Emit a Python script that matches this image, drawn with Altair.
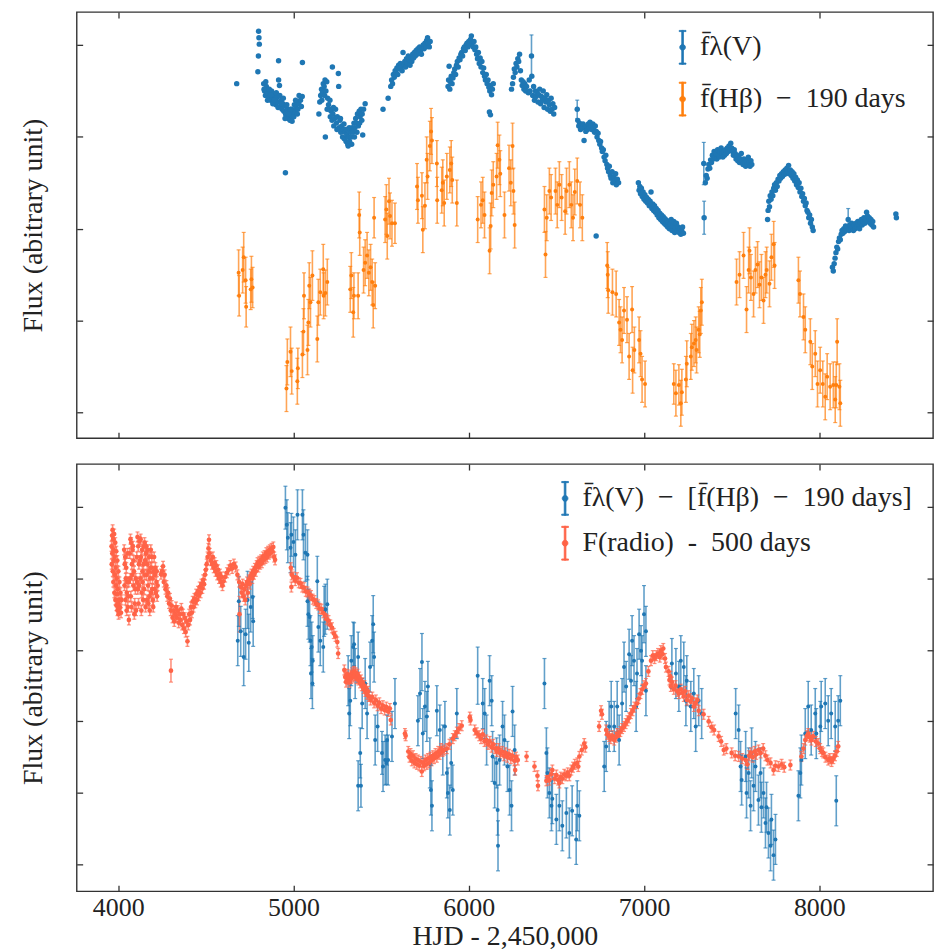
import altair as alt
import pandas as pd

# ---------------- axes ----------------
X_DOMAIN = [3763, 8649]
X_TICKS = [4000, 5000, 6000, 7000, 8000]
TOP_Y_DOMAIN = [-0.28, 4.36]
TOP_Y_TICKS = [0, 1, 2, 3, 4]
BOT_Y_DOMAIN = [-0.375, 5.6]
BOT_Y_TICKS = [0, 1, 2, 3, 4, 5]

TOP_SERIES = ["f̄λ(V)", "f̄(Hβ)\u2002−\u2002190 days"]
BOT_SERIES = ["f̄λ(V)\u2002−\u2002[f̄(Hβ)\u2002−\u2002190 days]", "F(radio)\u2002-\u2002500 days"]

# ---------------- data: top panel ----------------
# V-band continuum flux (HJD-2450000, flux in arbitrary units)
V_BAND = [
    (4676, 3.58),
    (4801, 4.15), (4803, 4.08), (4805, 4.01), (4800, 3.88), (4797, 3.71), (4915, 3.83), (5051, 3.81), (4954, 2.61),
    (4830, 3.58), (4835, 3.50), (4840, 3.45), (4845, 3.55), (4850, 3.48), (4855, 3.52), (4860, 3.42), (4865, 3.47),
    (4870, 3.40), (4875, 3.50), (4880, 3.44), (4885, 3.38), (4890, 3.46), (4895, 3.41), (4900, 3.35), (4905, 3.43),
    (4910, 3.38), (4915, 3.62), (4920, 3.56), (4925, 3.33), (4930, 3.40), (4935, 3.30), (4940, 3.36), (4945, 3.28),
    (4950, 3.34), (4955, 3.25), (4960, 3.22), (4965, 3.30), (4970, 3.20), (4975, 3.27), (4980, 3.18), (4985, 3.24),
    (4990, 3.30), (4995, 3.22), (5000, 3.28), (5005, 3.35), (5010, 3.26), (5015, 3.32), (5020, 3.38), (5025, 3.30),
    (5030, 3.36), (5040, 3.40), (5050, 3.44),
    (4832, 3.52), (4842, 3.60), (4852, 3.40), (4862, 3.52), (4872, 3.46), (4882, 3.36), (4892, 3.40), (4902, 3.48),
    (4912, 3.32), (4922, 3.45), (4932, 3.36), (4942, 3.42), (4952, 3.20), (4962, 3.35), (4972, 3.25), (4982, 3.30),
    (4992, 3.17), (5002, 3.22), (5012, 3.40), (5022, 3.25), (5032, 3.45), (5045, 3.33),
    (5145, 3.25), (5150, 3.38), (5155, 3.45), (5160, 3.52), (5165, 3.48), (5170, 3.58), (5175, 3.55), (5180, 3.62),
    (5185, 3.50), (5190, 3.60), (5195, 3.42), (5200, 3.35), (5205, 3.30), (5210, 3.22), (5215, 3.28), (5220, 3.18),
    (5222, 3.76), (5225, 3.25), (5230, 3.12), (5235, 3.20), (5240, 3.30), (5245, 3.15), (5250, 3.22), (5256, 3.69),
    (5258, 3.55), (5260, 3.10), (5265, 3.18), (5270, 3.05), (5275, 3.12), (5280, 3.00), (5285, 3.08), (5290, 2.98),
    (5295, 3.05), (5300, 2.95), (5305, 3.02), (5310, 2.92), (5315, 3.00), (5320, 2.95), (5325, 3.05), (5330, 3.00),
    (5335, 3.10), (5340, 3.05), (5345, 3.15), (5350, 3.10), (5355, 3.20), (5360, 3.15), (5365, 3.25), (5370, 3.12),
    (5375, 3.28), (5380, 3.22), (5385, 3.30), (5390, 3.18), (5395, 3.02), (5400, 3.30), (5409, 3.36), (5182, 3.00),
    (5312, 2.90),
    (5162, 3.40), (5178, 3.45), (5192, 3.30), (5208, 3.40), (5228, 3.32), (5248, 3.08), (5268, 3.20), (5288, 3.14),
    (5302, 3.08), (5318, 3.10), (5332, 2.92), (5348, 3.00), (5362, 3.05), (5378, 3.15), (5392, 3.25),
    (5511, 3.30), (5540, 3.42),
    (5555, 3.55), (5560, 3.62), (5565, 3.58), (5570, 3.68), (5575, 3.65), (5580, 3.72), (5585, 3.70), (5590, 3.75),
    (5595, 3.68), (5600, 3.78), (5605, 3.74), (5610, 3.80), (5615, 3.76), (5620, 3.72), (5625, 3.92), (5630, 3.78),
    (5635, 3.82), (5640, 3.76), (5645, 3.85), (5650, 3.80), (5655, 3.88), (5660, 3.84), (5665, 3.78), (5670, 3.86),
    (5675, 3.82), (5680, 3.90), (5685, 3.86), (5690, 3.92), (5695, 3.88), (5700, 3.94), (5705, 3.90), (5710, 3.96),
    (5715, 3.92), (5720, 3.98), (5725, 3.94), (5730, 3.90), (5735, 3.97), (5740, 4.00), (5745, 3.96), (5750, 4.02),
    (5755, 3.98), (5760, 4.05), (5765, 4.08), (5770, 4.02), (5775, 3.98), (5780, 4.04),
    (5882, 3.55), (5885, 3.62), (5888, 3.77), (5892, 3.52), (5895, 3.60), (5900, 3.66), (5905, 3.58), (5910, 3.64),
    (5915, 3.70), (5920, 3.74), (5925, 3.68), (5930, 3.78), (5935, 3.82), (5940, 3.76), (5945, 3.86), (5950, 3.84),
    (5955, 3.90), (5960, 3.92), (5965, 3.88), (5970, 3.96), (5975, 3.98), (5980, 3.94), (5985, 4.00), (5990, 4.02),
    (5995, 3.98), (6000, 4.04), (6005, 4.00), (6010, 4.06), (6015, 4.10), (6020, 4.02), (6025, 3.98), (6030, 4.04),
    (6035, 3.95), (6040, 3.98), (6045, 3.90), (6050, 3.85), (6055, 3.92), (6060, 3.80), (6065, 3.86), (6070, 3.76),
    (6075, 3.82), (6080, 3.70), (6085, 3.75), (6090, 3.66), (6095, 3.62), (6100, 3.68), (6105, 3.58), (6110, 3.62),
    (6115, 3.54), (6120, 3.50), (6125, 3.56), (6130, 3.46), (6135, 3.52), (6140, 3.58), (6118, 3.27), (6124, 3.24),
    (6244, 3.52), (6250, 3.58), (6255, 3.65), (6260, 3.74), (6265, 3.70), (6270, 3.80), (6275, 3.76), (6280, 3.85),
    (6285, 3.82), (6290, 3.90), (6295, 3.72), (6300, 3.62), (6305, 3.56), (6310, 3.60), (6315, 3.52), (6320, 3.58),
    (6325, 3.50), (6330, 3.55), (6340, 3.48), (6345, 3.62), (6350, 3.50), (6360, 3.66), (6365, 3.45), (6370, 3.55),
    (6375, 3.40), (6380, 3.50), (6385, 3.44), (6390, 3.48), (6395, 3.38), (6400, 3.46), (6405, 3.52), (6410, 3.36),
    (6415, 3.44), (6420, 3.40), (6425, 3.50), (6430, 3.32), (6435, 3.42), (6440, 3.38), (6445, 3.46), (6450, 3.30),
    (6455, 3.40), (6460, 3.35), (6465, 3.28), (6470, 3.42), (6475, 3.30), (6480, 3.36), (6485, 3.25), (6490, 3.32),
    (6622, 3.18), (6628, 3.12), (6632, 3.15), (6638, 3.08), (6642, 3.13), (6648, 3.10), (6652, 3.14), (6658, 2.96),
    (6662, 3.10), (6668, 3.06), (6672, 3.12), (6678, 3.08), (6682, 3.14), (6688, 3.10), (6692, 3.16), (6698, 3.12),
    (6702, 3.08), (6708, 3.14), (6712, 3.10), (6718, 3.05), (6722, 3.12), (6728, 3.06), (6732, 3.00), (6738, 3.04),
    (6742, 2.96), (6748, 2.92), (6752, 2.95), (6758, 2.88), (6762, 2.84), (6768, 2.86), (6772, 2.78), (6778, 2.74),
    (6782, 2.80), (6788, 2.70), (6792, 2.66), (6798, 2.62), (6802, 2.68), (6808, 2.58), (6812, 2.55), (6818, 2.62),
    (6822, 2.50), (6828, 2.56), (6832, 2.52), (6838, 2.60), (6842, 2.48), (6848, 2.54), (6855, 2.50),
    (6727, 1.92),
    (6968, 2.50), (6972, 2.42), (6976, 2.46), (6980, 2.38), (6985, 2.44), (6990, 2.35), (6995, 2.40), (7000, 2.32),
    (7005, 2.37), (7010, 2.30), (7015, 2.34), (7020, 2.28), (7025, 2.32), (7030, 2.25), (7035, 2.30), (7040, 2.40),
    (7045, 2.22), (7050, 2.27), (7055, 2.20), (7060, 2.25), (7065, 2.18), (7070, 2.22), (7075, 2.15), (7080, 2.20),
    (7085, 2.12), (7090, 2.17), (7095, 2.10), (7100, 2.15), (7105, 2.08), (7110, 2.13), (7115, 2.06), (7120, 2.11),
    (7125, 2.04), (7130, 2.09), (7135, 2.02), (7140, 2.07), (7145, 2.00), (7150, 2.05), (7155, 2.10), (7160, 1.98),
    (7165, 2.03), (7170, 2.08), (7175, 1.96), (7180, 2.01), (7185, 2.06), (7190, 1.98), (7195, 2.02), (7200, 1.96),
    (7205, 2.00), (7210, 1.94), (7215, 1.98), (7220, 2.02), (7225, 1.95),
    (7350, 2.50), (7355, 2.58), (7360, 2.55), (7365, 2.65), (7370, 2.70), (7375, 2.66), (7380, 2.75), (7385, 2.72),
    (7390, 2.80), (7395, 2.76), (7400, 2.84), (7405, 2.78), (7410, 2.82), (7415, 2.76), (7420, 2.86), (7425, 2.80),
    (7430, 2.78), (7435, 2.84), (7440, 2.88), (7445, 2.82), (7450, 2.78), (7455, 2.84), (7460, 2.80), (7465, 2.86),
    (7470, 2.82), (7475, 2.88), (7480, 2.84), (7485, 2.90), (7490, 2.86), (7495, 2.93), (7500, 2.88), (7505, 2.84),
    (7510, 2.80), (7515, 2.86), (7520, 2.82), (7525, 2.76), (7530, 2.80), (7535, 2.74), (7540, 2.78), (7545, 2.72),
    (7550, 2.76), (7555, 2.82), (7560, 2.74), (7565, 2.70), (7570, 2.76), (7575, 2.72), (7580, 2.68), (7585, 2.74),
    (7590, 2.70), (7595, 2.78), (7600, 2.72), (7605, 2.68), (7610, 2.74), (7615, 2.70),
    (7705, 2.10), (7708, 2.20), (7712, 2.30), (7716, 2.24), (7720, 2.36), (7725, 2.32), (7730, 2.40), (7735, 2.36),
    (7740, 2.44), (7745, 2.48), (7750, 2.42), (7755, 2.50), (7760, 2.46), (7765, 2.54), (7770, 2.52), (7775, 2.58),
    (7780, 2.55), (7785, 2.60), (7790, 2.57), (7795, 2.62), (7800, 2.59), (7805, 2.64), (7810, 2.60), (7815, 2.66),
    (7820, 2.62), (7825, 2.69), (7830, 2.60), (7835, 2.64), (7840, 2.58), (7845, 2.62), (7850, 2.55), (7855, 2.60),
    (7860, 2.52), (7865, 2.56), (7870, 2.48), (7875, 2.53), (7880, 2.45), (7885, 2.50), (7890, 2.40), (7895, 2.44),
    (7900, 2.35), (7905, 2.38), (7910, 2.30), (7915, 2.33), (7920, 2.25), (7925, 2.28), (7930, 2.20), (7935, 2.18),
    (7940, 2.12), (7945, 2.15), (7950, 2.06), (7955, 2.10), (7960, 2.02), (7965, 1.98),
    (8075, 1.58), (8080, 1.54), (8085, 1.62), (8090, 1.68), (8095, 1.74), (8100, 1.80), (8105, 1.78), (8110, 1.86),
    (8115, 1.90), (8120, 1.88), (8125, 1.94), (8130, 1.98), (8135, 1.95), (8140, 2.00), (8145, 1.97), (8150, 2.03),
    (8155, 1.99), (8160, 2.02), (8170, 1.98), (8175, 2.04), (8180, 2.00), (8185, 2.06), (8190, 2.02), (8195, 1.98),
    (8200, 2.04), (8205, 2.00), (8210, 2.06), (8215, 2.02), (8220, 2.08), (8225, 2.04), (8230, 2.00), (8235, 2.06),
    (8240, 2.10), (8245, 2.04), (8250, 2.08), (8255, 2.12), (8260, 2.06), (8265, 2.10), (8270, 2.18), (8275, 2.14),
    (8280, 2.08), (8285, 2.12), (8290, 2.06), (8295, 2.10), (8300, 2.04), (8305, 2.08), (8310, 2.02),
    (8437, 2.16), (8440, 2.12),
]
# V-band points with visible error bars (hjd, flux, error)
V_BAND_ERR = [(6358, 3.88, 0.23), (7341, 2.71, 0.23), (7343, 2.12, 0.18), (6619, 3.30, 0.10), (8165, 2.10, 0.12)]

# H-beta flux shifted by 190 days (hjd, flux, error)
HBETA = [
    (4687, 1.52, 0.25), (4690, 1.27, 0.22), (4710, 1.55, 0.25), (4716, 1.69, 0.27), (4727, 1.44, 0.25), (4730, 1.15, 0.22),
    (4756, 1.34, 0.22), (4760, 1.45, 0.25), (4767, 1.36, 0.22),
    (4960, 0.26, 0.25), (4965, 0.55, 0.25), (4983, 0.66, 0.27), (4990, 0.45, 0.25), (5022, 0.34, 0.25), (5025, 0.48, 0.22),
    (5051, 0.63, 0.25), (5057, 0.88, 0.25), (5060, 1.27, 0.25), (5080, 0.68, 0.27), (5085, 0.98, 0.25), (5090, 1.38, 0.25),
    (5097, 1.20, 0.27), (5108, 1.49, 0.27), (5136, 0.80, 0.25), (5142, 1.20, 0.25), (5153, 1.31, 0.25), (5170, 1.56, 0.27),
    (5172, 1.27, 0.25), (5182, 1.30, 0.25), (5193, 1.42, 0.25),
    (5324, 1.34, 0.25), (5330, 1.49, 0.25), (5341, 1.09, 0.27), (5345, 1.27, 0.25), (5369, 1.27, 0.25), (5375, 2.15, 0.25),
    (5378, 1.96, 0.25), (5400, 1.55, 0.25), (5409, 1.63, 0.25), (5420, 1.71, 0.25), (5430, 1.52, 0.25), (5440, 1.58, 0.25),
    (5449, 1.42, 0.25), (5455, 1.17, 0.25), (5460, 2.12, 0.22), (5466, 1.38, 0.25),
    (5523, 2.10, 0.25), (5530, 2.21, 0.27), (5535, 1.92, 0.25), (5545, 2.30, 0.25), (5551, 2.14, 0.25), (5562, 2.06, 0.25),
    (5579, 2.06, 0.22),
    (5705, 2.46, 0.25), (5710, 2.31, 0.25), (5733, 2.36, 0.25), (5738, 1.99, 0.25), (5750, 2.25, 0.25), (5760, 2.75, 0.25),
    (5765, 2.57, 0.25), (5778, 2.90, 0.27), (5785, 3.06, 0.25), (5790, 2.96, 0.25), (5818, 2.71, 0.25), (5820, 2.31, 0.25),
    (5846, 2.42, 0.25), (5852, 2.50, 0.25), (5860, 2.28, 0.25), (5875, 2.57, 0.25), (5892, 2.64, 0.25), (5900, 2.71, 0.25),
    (5906, 2.53, 0.25), (5932, 2.28, 0.25),
    (6051, 2.10, 0.25), (6070, 2.26, 0.25), (6080, 2.31, 0.25), (6090, 2.15, 0.25), (6119, 1.76, 0.25), (6125, 2.03, 0.25),
    (6131, 2.39, 0.25), (6140, 2.48, 0.25), (6159, 2.57, 0.25), (6165, 2.91, 0.25), (6175, 2.75, 0.27), (6180, 2.60, 0.25),
    (6204, 2.15, 0.25), (6230, 2.66, 0.25), (6240, 2.50, 0.25), (6250, 2.90, 0.25), (6255, 2.41, 0.25), (6262, 2.04, 0.25),
    (6432, 2.21, 0.25), (6438, 1.72, 0.25), (6445, 2.12, 0.25), (6460, 2.41, 0.25), (6470, 2.34, 0.25), (6495, 2.41, 0.25),
    (6505, 2.26, 0.25), (6517, 2.48, 0.25), (6530, 2.34, 0.25), (6550, 2.19, 0.25), (6558, 2.41, 0.25), (6574, 2.48, 0.25),
    (6585, 2.26, 0.25), (6595, 2.12, 0.25), (6605, 2.40, 0.25), (6619, 2.52, 0.25), (6635, 2.26, 0.25), (6648, 2.12, 0.25),
    (6790, 1.60, 0.25), (6793, 1.50, 0.25), (6796, 1.33, 0.25), (6820, 1.31, 0.25), (6841, 1.29, 0.25), (6858, 0.98, 0.25),
    (6866, 0.90, 0.25), (6875, 0.79, 0.25), (6886, 1.11, 0.25), (6903, 1.01, 0.25), (6915, 0.61, 0.25), (6932, 1.12, 0.25),
    (6935, 0.46, 0.25), (6945, 0.68, 0.25), (6972, 0.79, 0.25), (6980, 0.64, 0.25), (6989, 0.36, 0.25), (7006, 0.31, 0.25),
    (7170, 0.31, 0.22), (7182, 0.21, 0.25), (7199, 0.30, 0.22), (7210, 0.10, 0.25), (7216, 0.22, 0.25), (7239, 0.36, 0.25),
    (7244, 0.53, 0.25), (7267, 0.61, 0.25), (7273, 0.71, 0.25), (7285, 0.75, 0.25), (7295, 0.79, 0.25), (7300, 0.68, 0.25),
    (7312, 0.90, 0.25), (7318, 0.85, 0.25), (7324, 1.11, 0.25), (7330, 1.20, 0.25),
    (7528, 1.42, 0.25), (7545, 1.50, 0.25), (7568, 1.71, 0.25), (7585, 1.12, 0.25), (7597, 1.55, 0.25), (7602, 1.76, 0.25),
    (7610, 1.47, 0.25), (7625, 1.29, 0.25), (7636, 1.55, 0.25), (7648, 1.61, 0.25), (7659, 1.39, 0.25), (7670, 1.47, 0.25),
    (7682, 1.22, 0.25), (7693, 1.50, 0.25), (7700, 1.55, 0.25), (7716, 1.40, 0.25), (7727, 1.69, 0.25), (7740, 1.83, 0.25),
    (7745, 1.60, 0.25),
    (7881, 1.44, 0.25), (7890, 1.29, 0.25), (7910, 1.04, 0.25), (7920, 0.90, 0.25), (7949, 0.77, 0.25), (7960, 0.50, 0.25),
    (7977, 0.64, 0.25), (7990, 0.31, 0.25), (8005, 0.46, 0.25), (8020, 0.31, 0.25), (8034, 0.17, 0.25), (8045, 0.39, 0.25),
    (8062, 0.28, 0.25), (8080, 0.30, 0.25), (8091, 0.14, 0.25), (8097, 0.30, 0.25), (8102, 0.77, 0.25), (8115, 0.28, 0.25),
    (8120, 0.10, 0.25),
]

# ---------------- data: bottom panel ----------------
# V-band minus shifted H-beta (hjd, flux, error)
DIFF = [
    (4682, 3.13, 0.35), (4688, 3.68, 0.35), (4699, 3.26, 0.35), (4716, 2.90, 0.40), (4727, 3.22, 0.35), (4738, 3.70, 0.40),
    (4745, 3.10, 0.40), (4756, 3.60, 0.35), (4767, 3.74, 0.30), (4770, 3.40, 0.35),
    (4954, 4.99, 0.30), (4962, 4.75, 0.35), (4968, 4.57, 0.35), (4983, 4.43, 0.35), (4988, 4.61, 0.30), (5000, 4.51, 0.35),
    (5011, 4.33, 0.35), (5023, 4.89, 0.35), (5051, 4.89, 0.35), (5057, 4.61, 0.35), (5068, 4.36, 0.40), (5080, 4.33, 0.35),
    (5080, 3.68, 0.35), (5085, 3.50, 0.35), (5092, 3.46, 0.35), (5097, 3.13, 0.35), (5100, 2.67, 0.35), (5104, 3.04, 0.35),
    (5108, 2.53, 0.35), (5110, 2.85, 0.35), (5136, 3.96, 0.35), (5142, 3.32, 0.35), (5153, 3.13, 0.35), (5170, 3.04, 0.35),
    (5175, 3.54, 0.35), (5182, 3.57, 0.35), (5193, 3.64, 0.35),
    (5312, 2.57, 0.35), (5318, 2.11, 0.35), (5324, 2.29, 0.35), (5330, 2.85, 0.35), (5341, 3.04, 0.35), (5346, 3.08, 0.30),
    (5352, 2.67, 0.35), (5369, 2.90, 0.35), (5369, 1.10, 0.35), (5381, 1.56, 0.35), (5385, 1.10, 0.30), (5392, 2.25, 0.35),
    (5409, 2.53, 0.35), (5420, 2.11, 0.35), (5437, 2.76, 0.35), (5449, 3.13, 0.35), (5455, 3.36, 0.40), (5460, 2.90, 0.35),
    (5466, 1.74, 0.35), (5480, 1.93, 0.35), (5505, 1.56, 0.30), (5511, 1.37, 0.35), (5523, 1.46, 0.35), (5530, 1.42, 0.30),
    (5534, 1.74, 0.35), (5540, 1.46, 0.35), (5562, 1.79, 0.35), (5579, 2.25, 0.35),
    (5710, 2.01, 0.35), (5722, 2.39, 0.35), (5733, 2.83, 0.40), (5738, 1.83, 0.35), (5750, 2.21, 0.35), (5761, 2.07, 0.35),
    (5767, 2.49, 0.35), (5778, 1.42, 0.35), (5784, 1.04, 0.35), (5790, 0.82, 0.35), (5818, 2.15, 0.35), (5835, 1.88, 0.35),
    (5852, 1.60, 0.35), (5864, 1.93, 0.35), (5875, 1.28, 0.35), (5881, 1.00, 0.35), (5892, 0.76, 0.35), (5900, 1.42, 0.35),
    (5909, 1.04, 0.35), (5932, 2.11, 0.35),
    (6051, 2.64, 0.40), (6080, 2.25, 0.35), (6091, 2.11, 0.35), (6102, 1.74, 0.35), (6119, 2.57, 0.35), (6131, 2.29, 0.35),
    (6136, 1.51, 0.35), (6148, 1.14, 0.35), (6159, 1.42, 0.35), (6165, 0.76, 0.35), (6167, 0.26, 0.35), (6176, 1.46, 0.35),
    (6193, 1.93, 0.35), (6204, 1.74, 0.35), (6221, 1.37, 0.35), (6233, 1.04, 0.35), (6244, 0.82, 0.35), (6250, 2.14, 0.35),
    (6262, 1.60, 0.35),
    (6432, 2.53, 0.35), (6443, 1.56, 0.35), (6449, 1.28, 0.35), (6460, 1.00, 0.35), (6472, 0.82, 0.35), (6477, 0.92, 0.35),
    (6500, 0.63, 0.35), (6517, 0.82, 0.35), (6534, 0.54, 0.35), (6557, 0.72, 0.35), (6574, 0.44, 0.35), (6590, 0.75, 0.35),
    (6613, 0.35, 0.35), (6619, 0.82, 0.35), (6631, 0.68, 0.35),
    (6773, 1.37, 0.35), (6784, 1.65, 0.35), (6801, 1.93, 0.35), (6813, 2.21, 0.35), (6830, 1.93, 0.35), (6847, 2.21, 0.35),
    (6858, 1.74, 0.35), (6875, 2.25, 0.35), (6886, 2.76, 0.35), (6898, 2.49, 0.35), (6915, 2.94, 0.35), (6926, 2.57, 0.35),
    (6932, 3.13, 0.35), (6943, 2.85, 0.35), (6955, 2.21, 0.35), (6960, 2.67, 0.35), (6972, 3.22, 0.35), (6983, 2.99, 0.35),
    (6989, 2.85, 0.35), (7000, 3.50, 0.40), (7011, 3.26, 0.35), (7011, 2.43, 0.35),
    (7159, 2.81, 0.35), (7182, 2.67, 0.35), (7199, 2.49, 0.35), (7210, 2.85, 0.35), (7227, 2.76, 0.35), (7239, 2.29, 0.35),
    (7244, 2.57, 0.35), (7267, 2.21, 0.35), (7284, 2.39, 0.35), (7295, 1.93, 0.35), (7312, 2.29, 0.35), (7329, 2.11, 0.35),
    (7523, 2.11, 0.35), (7540, 1.88, 0.35), (7551, 1.37, 0.35), (7557, 1.18, 0.35), (7580, 1.51, 0.35), (7585, 1.00, 0.35),
    (7597, 1.28, 0.35), (7608, 0.82, 0.35), (7614, 1.56, 0.35), (7625, 1.10, 0.35), (7636, 1.37, 0.35), (7653, 0.90, 0.35),
    (7665, 1.28, 0.35), (7670, 0.80, 0.35), (7682, 1.00, 0.35), (7693, 0.58, 0.35), (7699, 0.80, 0.35), (7710, 0.44, 0.35),
    (7722, 0.26, 0.35), (7727, 0.63, 0.35), (7739, 0.13, 0.35), (7750, 0.35, 0.35),
    (7881, 0.96, 0.35), (7892, 1.28, 0.35), (7898, 1.46, 0.35), (7920, 1.83, 0.35), (7937, 2.21, 0.35), (7954, 1.88, 0.35),
    (7977, 2.11, 0.35), (7983, 1.83, 0.35), (8006, 1.93, 0.35), (8011, 2.21, 0.35), (8034, 2.25, 0.35), (8051, 2.01, 0.35),
    (8068, 2.11, 0.35), (8091, 1.93, 0.35), (8097, 0.89, 0.35), (8108, 2.01, 0.35), (8120, 2.29, 0.35),
]

# Radio flux shifted by 500 days (hjd, flux); typical error RADIO_ERR
RADIO = [
    (3962, 4.45), (3965, 4.60), (3968, 4.68), (3971, 4.55), (3974, 4.40), (3977, 4.62), (3980, 4.30), (3983, 4.50),
    (3986, 4.15), (3989, 4.38), (3992, 4.00), (3995, 4.25), (3998, 3.85), (4001, 4.10), (4004, 3.70), (4007, 3.95),
    (4010, 3.60), (4013, 3.80), (4016, 3.52), (4019, 3.70),
    (3963, 4.20), (3966, 4.35), (3969, 4.10), (3972, 3.95), (3975, 4.25), (3978, 3.80), (3981, 4.05), (3984, 3.70),
    (3987, 3.90), (3990, 3.62), (3993, 3.78), (3996, 3.55), (3999, 3.65), (4002, 3.50), (4005, 3.58),
    (4034, 4.40), (4037, 4.20), (4040, 4.30), (4043, 4.00), (4046, 4.15), (4049, 3.80), (4052, 3.95), (4055, 3.60),
    (4058, 3.75), (4061, 3.42), (4036, 3.90), (4042, 3.70), (4048, 3.55), (4054, 4.35), (4060, 3.95),
    (4066, 4.35), (4070, 4.55), (4074, 4.50), (4078, 4.20), (4082, 4.40), (4086, 3.90), (4090, 4.10), (4094, 3.65),
    (4098, 3.85), (4102, 3.55), (4106, 4.30), (4110, 4.58), (4114, 4.45), (4118, 4.20), (4122, 4.52), (4126, 4.00),
    (4130, 4.30), (4134, 3.80), (4138, 4.10), (4142, 3.70), (4146, 4.45), (4150, 4.50), (4154, 4.25), (4158, 4.35),
    (4162, 4.05), (4166, 4.20), (4170, 3.90), (4174, 4.10), (4178, 3.75), (4182, 4.00), (4186, 4.40), (4190, 4.15),
    (4194, 3.85), (4198, 3.70), (4205, 4.30), (4210, 4.05), (4215, 3.80), (4220, 4.10), (4225, 3.90),
    (4068, 4.00), (4072, 3.75), (4076, 3.60), (4080, 4.05), (4084, 4.45), (4088, 4.25), (4092, 3.50), (4100, 4.00),
    (4108, 3.95), (4112, 3.85), (4116, 3.65), (4120, 3.90), (4124, 4.25), (4128, 4.55), (4132, 3.55), (4136, 4.40),
    (4140, 3.95), (4144, 4.20), (4148, 3.85), (4152, 4.05), (4156, 3.60), (4160, 4.45), (4164, 3.70), (4168, 4.40),
    (4172, 3.65), (4176, 4.30), (4180, 3.55), (4184, 4.15), (4188, 3.80), (4192, 4.30), (4196, 4.00), (4200, 3.60),
    (4202, 4.10), (4208, 3.85), (4212, 4.15), (4218, 3.95), (4222, 3.75),
    (4244, 4.06), (4250, 4.10), (4256, 4.17), (4260, 3.95), (4265, 4.05), (4270, 3.85), (4275, 3.90), (4280, 3.75),
    (4285, 3.80), (4290, 3.65), (4295, 3.72), (4300, 3.55), (4305, 3.62), (4310, 3.45), (4315, 3.55), (4320, 3.40),
    (4325, 3.50), (4330, 3.60), (4335, 3.45), (4340, 3.55), (4345, 3.38), (4350, 3.50), (4355, 3.42), (4360, 3.58),
    (4365, 3.35), (4370, 3.50), (4375, 3.30), (4380, 3.45), (4385, 3.25), (4390, 3.40), (4395, 3.12), (4400, 3.35),
    (4405, 3.50), (4410, 3.42), (4415, 3.60), (4420, 3.52), (4425, 3.68), (4430, 3.60), (4435, 3.72), (4440, 3.66),
    (4445, 3.78), (4450, 3.70), (4455, 3.82), (4460, 3.76), (4465, 3.88), (4470, 3.80), (4475, 3.92), (4480, 3.86),
    (4485, 3.98), (4490, 3.92), (4495, 4.05), (4500, 4.12), (4505, 4.20), (4510, 4.30), (4515, 4.42), (4518, 4.54),
    (4522, 4.35), (4528, 4.25), (4535, 4.20), (4540, 4.30), (4545, 4.15), (4550, 4.22), (4555, 4.10), (4560, 4.18),
    (4565, 4.05), (4570, 4.12), (4575, 4.00), (4580, 4.06), (4585, 3.95), (4590, 4.02), (4595, 3.90), (4600, 3.96),
    (4610, 4.02), (4620, 4.08), (4630, 4.12), (4640, 4.18), (4650, 4.14), (4660, 4.20), (4670, 4.16), (4680, 4.05),
    (4690, 3.95), (4700, 3.88), (4705, 3.80), (4710, 3.92), (4715, 3.75), (4720, 3.85), (4725, 3.70), (4730, 3.90),
    (4735, 3.95), (4740, 3.80), (4745, 3.98), (4750, 3.92), (4755, 4.02), (4760, 4.06), (4765, 4.00), (4770, 4.10),
    (4775, 4.06), (4780, 4.14), (4785, 4.10), (4790, 4.18), (4795, 4.22), (4800, 4.16), (4805, 4.24), (4810, 4.20),
    (4815, 4.26), (4820, 4.22), (4825, 4.30), (4830, 4.26), (4835, 4.32), (4840, 4.28), (4845, 4.36), (4850, 4.30),
    (4855, 4.38), (4860, 4.34), (4865, 4.40), (4870, 4.36), (4875, 4.42), (4880, 4.38), (4885, 4.44), (4890, 4.30),
    (4895, 4.26),
    (4985, 4.15), (4988, 3.88), (4990, 4.05), (5000, 4.02), (5010, 3.97), (5020, 4.01), (5030, 3.94), (5040, 3.93),
    (5050, 3.88), (5060, 3.87), (5070, 3.82), (5080, 3.81), (5090, 3.78), (5100, 3.76), (5110, 3.71), (5120, 3.69),
    (5130, 3.65), (5140, 3.63), (5150, 3.58), (5160, 3.57), (5170, 3.52), (5180, 3.49), (5190, 3.43), (5200, 3.41),
    (5210, 3.35), (5220, 3.31), (5230, 3.23), (5240, 3.19), (5250, 3.11), (5255, 2.95),
    (5290, 2.72), (5295, 2.62), (5300, 2.55), (5305, 2.66), (5310, 2.58), (5315, 2.62), (5320, 2.55), (5325, 2.65),
    (5330, 2.60), (5335, 2.68), (5340, 2.62), (5345, 2.70), (5350, 2.64), (5355, 2.68), (5360, 2.60), (5365, 2.66),
    (5370, 2.58), (5375, 2.62), (5380, 2.54), (5385, 2.58), (5390, 2.50), (5395, 2.54), (5400, 2.46), (5405, 2.50),
    (5410, 2.42), (5415, 2.46), (5420, 2.38), (5425, 2.42), (5430, 2.35), (5440, 2.30), (5450, 2.34), (5460, 2.26),
    (5470, 2.30), (5480, 2.22), (5490, 2.26), (5500, 2.18), (5510, 2.22), (5520, 2.16), (5530, 2.20), (5540, 2.14),
    (5550, 2.18), (5555, 2.02),
    (5636, 1.83), (5640, 1.80), (5655, 1.58), (5662, 1.50), (5668, 1.55), (5675, 1.45), (5682, 1.52), (5690, 1.42),
    (5697, 1.48), (5704, 1.40), (5711, 1.46), (5718, 1.38), (5725, 1.44), (5732, 1.30), (5739, 1.42), (5746, 1.38),
    (5753, 1.46), (5760, 1.40), (5767, 1.48), (5774, 1.42), (5781, 1.50), (5788, 1.45), (5795, 1.52), (5802, 1.48),
    (5810, 1.55), (5818, 1.50), (5826, 1.58), (5834, 1.54), (5842, 1.62), (5850, 1.58), (5860, 1.60),
    (5875, 1.62), (5890, 1.68), (5909, 1.76), (5920, 1.80), (5932, 1.85), (5945, 1.90), (5960, 1.94), (6006, 2.06),
    (6010, 2.02), (6034, 1.88), (6046, 1.84), (6060, 1.80), (6070, 1.76), (6080, 1.82), (6090, 1.72), (6100, 1.74),
    (6110, 1.68), (6120, 1.72), (6130, 1.64), (6140, 1.68), (6150, 1.62), (6160, 1.58), (6170, 1.62), (6180, 1.55),
    (6190, 1.58), (6200, 1.52), (6210, 1.56), (6220, 1.50), (6230, 1.54), (6240, 1.48), (6250, 1.52), (6260, 1.45),
    (6265, 1.32), (6270, 1.50), (6280, 1.46),
    (6330, 1.51), (6375, 1.37), (6392, 1.24), (6395, 1.10), (6443, 1.17), (6450, 1.22), (6460, 1.18), (6470, 1.26),
    (6477, 1.32), (6490, 1.20), (6500, 1.25), (6510, 1.18), (6517, 1.14), (6525, 1.22), (6534, 1.20), (6545, 1.26),
    (6555, 1.24), (6565, 1.28), (6574, 1.24), (6585, 1.32), (6595, 1.36), (6605, 1.40), (6619, 1.42), (6625, 1.37),
    (6631, 1.51), (6645, 1.60), (6659, 1.69), (6665, 1.64),
    (6744, 1.93), (6755, 2.15), (6760, 2.10), (6784, 1.88), (6790, 1.82), (6801, 1.79), (6810, 1.76), (6820, 1.80),
    (6830, 1.74), (6840, 1.78), (6847, 1.83), (6855, 1.80), (6865, 1.86), (6875, 1.90), (6886, 1.93), (6895, 1.97),
    (6905, 2.01), (6915, 2.05), (6925, 2.11), (6935, 2.15), (6945, 2.20), (6960, 2.25), (6970, 2.32), (6980, 2.39),
    (6990, 2.45), (7000, 2.50), (7011, 2.53), (7025, 2.70), (7040, 2.85), (7050, 2.92), (7060, 2.88), (7070, 2.92),
    (7080, 2.95), (7090, 2.90), (7096, 2.99), (7105, 2.94), (7110, 3.02), (7120, 2.88), (7125, 2.76),
    (7140, 2.70), (7145, 2.58), (7150, 2.63), (7153, 2.49), (7160, 2.55), (7170, 2.45), (7180, 2.50), (7190, 2.42),
    (7199, 2.39), (7210, 2.45), (7220, 2.40), (7227, 2.35), (7235, 2.42), (7245, 2.30), (7255, 2.36), (7265, 2.28),
    (7275, 2.32), (7284, 2.21), (7295, 2.26), (7305, 2.30), (7312, 2.15), (7340, 2.10), (7369, 2.00), (7385, 1.92),
    (7400, 1.88), (7426, 1.79), (7440, 1.72), (7455, 1.60), (7470, 1.62), (7500, 1.56), (7520, 1.52), (7540, 1.51),
    (7560, 1.48), (7580, 1.46), (7590, 1.40), (7600, 1.52), (7610, 1.56), (7620, 1.50), (7630, 1.58), (7640, 1.54),
    (7653, 1.60), (7665, 1.56), (7680, 1.62), (7693, 1.52), (7705, 1.46), (7722, 1.42), (7739, 1.32), (7750, 1.38),
    (7767, 1.37), (7785, 1.40), (7800, 1.36), (7835, 1.39), (7898, 1.51), (7910, 1.62), (7920, 1.74), (7930, 1.80),
    (7937, 1.83), (7945, 1.78), (7955, 1.74), (7965, 1.79), (7980, 1.72), (7994, 1.69), (8005, 1.62), (8015, 1.58),
    (8023, 1.56), (8035, 1.50), (8051, 1.46), (8060, 1.48), (8070, 1.44), (8080, 1.48), (8090, 1.52), (8100, 1.58),
    (8108, 1.65),
]
RADIO_ERR = 0.07
RADIO_OUTLIERS = [(4301, 2.71, 0.16), (4692, 3.50, 0.25)]

# ---------------- styling ----------------
FONT = "Liberation Serif"
BLUE = "#1f77b4"
ORANGE = "#ff7f0e"
RED = "#ff6347"
TEXT = "#222222"
FRAME = "#333333"

ERRBAR_SYMBOL = (
    "M-0.05,-1H0.05V1H-0.05Z "
    "M-0.2,-1H0.2V-0.93H-0.2Z M-0.2,0.93H0.2V1H-0.2Z "
    "M0,-0.17A0.17,0.17 0 1,1 0,0.17A0.17,0.17 0 1,1 0,-0.17Z"
)

TICK_STYLE = dict(tickSize=6, offset=-6, domain=False, grid=False, tickColor=FRAME, tickWidth=1.3)


def build_frames(points, errors, sizes):
    pts = pd.DataFrame(points, columns=["hjd", "flux", "series"])
    pts["sz"] = pts["series"].map(sizes)
    err = pd.DataFrame(errors, columns=["hjd", "flux", "e", "series"])
    err["lo"] = err["flux"] - err["e"]
    err["hi"] = err["flux"] + err["e"]
    caps = pd.concat([
        err[["hjd", "lo", "series"]].rename(columns={"lo": "yv"}),
        err[["hjd", "hi", "series"]].rename(columns={"hi": "yv"}),
    ], ignore_index=True)
    return pts, err, caps


def panel(pts, err, caps, y_domain, y_ticks, series, colors, legend_x, legend_y, row_pad, bottom, height):
    xs = alt.Scale(domain=X_DOMAIN, nice=False, zero=False)
    ys = alt.Scale(domain=y_domain, nice=False, zero=False)
    cs = alt.Scale(domain=series, range=colors)
    legend = alt.Legend(
        orient="none", legendX=legend_x, legendY=legend_y, title=None,
        symbolType=ERRBAR_SYMBOL, symbolSize=1156, symbolStrokeWidth=0.8, symbolOpacity=1,
        labelFont=FONT, labelFontSize=28, labelColor=TEXT, labelLimit=700,
        labelOffset=0, rowPadding=row_pad, padding=0)

    rules = alt.Chart(err).mark_rule(strokeWidth=1.6, opacity=0.7).encode(
        x=alt.X("hjd:Q", scale=xs,
                axis=alt.Axis(orient="top", values=X_TICKS, labels=False, title=None, **TICK_STYLE)),
        y=alt.Y("lo:Q", scale=ys,
                axis=alt.Axis(orient="right", values=y_ticks, labels=False, title=None, **TICK_STYLE)),
        y2="hi:Q",
        color=alt.Color("series:N", scale=cs, legend=legend),
    )
    cap = alt.Chart(caps).mark_tick(orient="horizontal", size=4, thickness=1.2, opacity=0.7).encode(
        x=alt.X("hjd:Q", scale=xs, axis=None),
        y=alt.Y("yv:Q", scale=ys, axis=None),
        color=alt.Color("series:N", scale=cs, legend=legend),
    )
    if bottom:
        x_axis = alt.Axis(orient="bottom", values=X_TICKS, format="d", labels=True,
                          title="HJD - 2,450,000", labelPadding=3, titlePadding=2, **TICK_STYLE)
    else:
        x_axis = alt.Axis(orient="bottom", values=X_TICKS, labels=False, title=None, **TICK_STYLE)
    dots = alt.Chart(pts).mark_circle(opacity=1).encode(
        x=alt.X("hjd:Q", scale=xs, axis=x_axis),
        y=alt.Y("flux:Q", scale=ys,
                axis=alt.Axis(orient="left", values=y_ticks, labels=False,
                              title="Flux (abitrary unit)", titlePadding=29, **TICK_STYLE)),
        color=alt.Color("series:N", scale=cs, legend=legend),
        size=alt.Size("sz:Q", scale=None),
    )
    return alt.layer(rules, cap, dots).resolve_scale(x="independent", y="independent").properties(
        width=860, height=height)


# top panel frames
top_points = [(x, y, TOP_SERIES[0]) for x, y in V_BAND] + \
             [(x, y, TOP_SERIES[0]) for x, y, e in V_BAND_ERR] + \
             [(x, y, TOP_SERIES[1]) for x, y, e in HBETA]
top_errors = [(x, y, e, TOP_SERIES[0]) for x, y, e in V_BAND_ERR] + \
             [(x, y, e, TOP_SERIES[1]) for x, y, e in HBETA]
tp, te, tc = build_frames(top_points, top_errors, {TOP_SERIES[0]: 30, TOP_SERIES[1]: 16})

bot_points = [(x, y, BOT_SERIES[0]) for x, y, e in DIFF] + \
             [(x, y, BOT_SERIES[1]) for x, y in RADIO] + \
             [(x, y, BOT_SERIES[1]) for x, y, e in RADIO_OUTLIERS]
bot_errors = [(x, y, e, BOT_SERIES[0]) for x, y, e in DIFF] + \
             [(x, y, RADIO_ERR, BOT_SERIES[1]) for x, y in RADIO] + \
             [(x, y, e, BOT_SERIES[1]) for x, y, e in RADIO_OUTLIERS]
bp, be, bc = build_frames(bot_points, bot_errors, {BOT_SERIES[0]: 16, BOT_SERIES[1]: 22})

top = panel(tp, te, tc, TOP_Y_DOMAIN, TOP_Y_TICKS, TOP_SERIES, [BLUE, ORANGE], 591, 18, 13, False, 428)
bottom = panel(bp, be, bc, BOT_Y_DOMAIN, BOT_Y_TICKS, BOT_SERIES, [BLUE, RED], 473, 17, 6, True, 429)

chart = alt.vconcat(top, bottom, spacing=22).resolve_scale(color="independent").configure(
    font=FONT, padding={"left": 18, "top": 8, "right": 3, "bottom": 2}
).configure_view(
    stroke=FRAME, strokeWidth=1.4
).configure_axis(
    labelFont=FONT, titleFont=FONT, labelFontSize=26, titleFontSize=28,
    labelColor=TEXT, titleColor=TEXT, titleFontWeight="normal"
)

chart.save("out.html", embed_options={"renderer": "svg", "actions": False})
